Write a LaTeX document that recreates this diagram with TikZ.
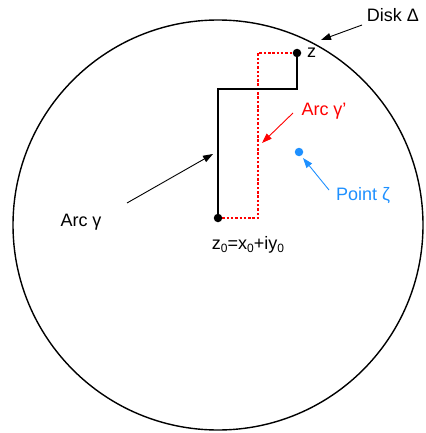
\documentclass[tikz,border=0pt]{standalone}
\usepackage{fontspec}
\setmainfont{Liberation Sans}
\usetikzlibrary{arrows.meta}
\definecolor{zblue}{RGB}{30,144,255}
\newcommand{\zsub}[1]{\raisebox{-0.3ex}{\fontsize{12}{14}\selectfont #1}}
\begin{document}
\begin{tikzpicture}[x=1pt,y=-1pt,
  lbl/.style={font=\fontsize{18}{21}\selectfont, inner sep=0pt},
  dot/.style={circle, fill=black, inner sep=0pt, minimum size=8.5pt},
  bluedot/.style={circle, fill=zblue, inner sep=0pt, minimum size=8.5pt},
  pointer/.style={line width=0.9pt, -{Triangle[length=10pt,width=7pt]}},
  solidpath/.style={line width=1.4pt},
  dotpath/.style={red, line width=1.4pt, dash pattern=on 2.5pt off 1.8pt}]
\useasboundingbox (0,0) rectangle (425,433);
\node[draw, circle, line width=1.4pt, minimum size=410pt, inner sep=0pt] (disk) at (218,225) {};
% points
\coordinate (z0) at (218,218);
\coordinate (c1) at (218,89);
\coordinate (c2) at (297,89);
\coordinate (z) at (297,53);
\coordinate (r1) at (258,218);
\coordinate (r2) at (258,53);
% paths
\draw[dotpath] (z0) -- (r1) -- (r2) -- (z);
\draw[solidpath] (z0) -- (c1) -- (c2) -- (z);
\node[dot] (z0dot) at (z0) {};
\node[dot] (zdot) at (z) {};
\node[bluedot] (zeta) at (299,152) {};
% labels
\node[lbl, anchor=west] (zl) at (307,53) {z};
\node[lbl] (z0l) at (248,245) {z\zsub{0}=x\zsub{0}+iy\zsub{0}};
\node[lbl] (diskl) at (393,15) {Disk Δ};
\node[lbl, red] (arcpl) at (324,111) {Arc γ'};
\node[lbl] (arcl) at (81,222) {Arc γ};
\node[lbl, zblue] (pointl) at (363,196) {Point ζ};
% arrow targets
\coordinate (tdisk) at (321,40);
\coordinate (tarcp) at (262,143);
\coordinate (tarc) at (213,154);
\coordinate (tzeta) at (303,158);
\coordinate (sdisk) at (362,25);
\coordinate (sarcp) at (293,113);
\coordinate (sarc) at (127,203);
\coordinate (szeta) at (329,190);
\draw[pointer] (sdisk) -- (tdisk);
\draw[pointer, red] (sarcp) -- (tarcp);
\draw[pointer] (sarc) -- (tarc);
\draw[pointer, zblue] (szeta) -- (tzeta);
\end{tikzpicture}
\end{document}
